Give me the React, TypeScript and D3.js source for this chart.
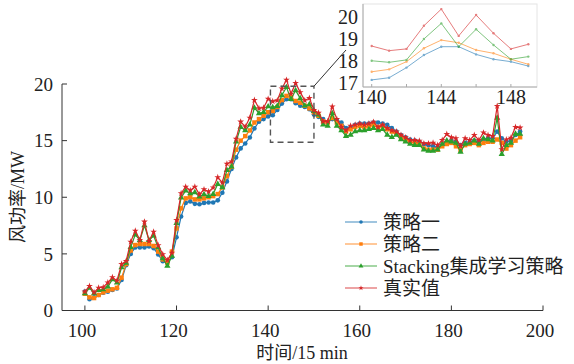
import * as d3 from 'd3';

// time index of the first sample (15 min steps)
const START = 100;

const strategy1 = [
  1.66, 0.99, 1.16, 1.37, 1.57, 1.66, 1.81, 1.95, 2.69, 4.0,
  5.0, 5.57, 5.57, 5.57, 5.65, 5.5, 4.95, 4.35, 4.25, 4.7,
  6.46, 8.3, 9.5, 9.63, 9.42, 9.38, 9.5, 9.54, 9.54, 9.73,
  10.4, 11.4, 12.5, 13.52, 14.31, 14.75, 15.28, 16.08, 16.67, 16.9,
  17.14, 17.24, 17.7, 18.27, 18.65, 18.65, 18.3, 18.08, 17.97, 17.77,
  17.3, 17.1, 16.9, 16.6, 16.9, 16.8, 16.6, 16.1, 16.2, 16.4,
  16.5, 16.5, 16.5, 16.6, 16.6, 16.5, 16.4, 16.1, 15.8, 15.5,
  15.3, 15.1, 15.0, 14.9, 14.7, 14.6, 14.5, 14.4, 14.6, 14.9,
  15.0, 14.9, 14.6, 14.8, 14.9, 15.0, 14.9, 15.1, 15.2, 15.2,
  15.8, 15.2, 14.9, 15.0, 15.5, 15.8,
];

const strategy2 = [
  1.48, 1.16, 1.1, 1.37, 1.6, 1.75, 1.87, 2.0, 2.9, 4.1,
  5.3, 5.78, 5.87, 5.87, 5.87, 5.7, 5.2, 4.51, 4.22, 5.2,
  7.25, 9.02, 9.9, 10.0, 9.81, 9.81, 9.9, 10.0, 10.1, 10.28,
  10.87, 11.87, 12.7, 14.2, 15.0, 15.4, 15.9, 16.6, 16.9, 17.2,
  17.51, 17.62, 17.97, 18.58, 18.95, 18.83, 18.5, 18.35, 18.08, 17.85,
  17.5, 17.2, 16.7, 16.6, 17.0, 16.6, 16.3, 15.8, 16.0, 16.2,
  16.3, 16.2, 16.3, 16.4, 16.2, 16.3, 16.0, 15.8, 15.6, 15.3,
  15.1, 14.9, 14.8, 14.7, 14.3, 14.2, 14.2, 14.2, 14.5, 14.7,
  14.8, 14.5, 14.2, 14.6, 14.7, 14.8, 14.6, 14.8, 14.9, 14.9,
  15.1, 14.8, 14.3, 14.6, 15.0, 15.3,
];

const stacking = [
  1.5, 2.0, 1.5, 1.8, 1.85, 2.1, 2.75, 2.45, 3.8, 4.2,
  5.6, 6.7, 6.2, 7.5, 6.2, 6.6, 5.57, 4.6, 3.93, 4.81,
  7.7, 9.96, 10.58, 10.34, 10.43, 10.05, 10.25, 10.1, 10.28, 11.16,
  10.87, 12.4, 12.7, 14.9, 16.2, 15.9, 16.4, 17.9, 17.4, 17.5,
  18.01, 17.94, 18.05, 19.0, 19.71, 18.65, 19.44, 18.73, 18.08, 18.2,
  17.6, 17.3, 16.4, 16.3, 17.4, 16.3, 15.9, 15.4, 15.5, 15.8,
  15.9, 15.9, 16.0, 16.1, 15.9, 16.0, 15.5, 15.3, 15.5, 15.1,
  14.9, 14.7, 14.6, 14.6, 14.2, 14.1, 14.1, 14.2, 14.7, 15.0,
  14.9, 14.8, 14.0, 14.7, 14.8, 15.0, 14.7, 15.2, 15.1, 15.0,
  17.0, 13.8, 14.6, 14.8, 15.6, 15.6,
];

const actual = [
  1.66, 2.16, 1.6, 2.01, 2.05, 2.46, 2.93, 2.63, 4.1, 4.37,
  6.07, 7.04, 6.22, 7.84, 6.13, 6.95, 5.75, 4.96, 4.45, 5.1,
  7.99, 10.34, 10.93, 10.6, 10.93, 10.25, 10.69, 10.5, 10.85, 11.76,
  11.29, 12.96, 13.14, 15.16, 16.67, 16.23, 17.02, 18.58, 17.85, 17.9,
  18.68, 18.47, 18.55, 19.6, 20.36, 19.14, 20.09, 19.26, 18.55, 18.76,
  17.7, 17.45, 16.7, 16.7, 18.0, 16.9, 16.2, 15.9, 16.3, 16.4,
  16.5, 16.4, 16.5, 16.65, 16.2, 16.4, 16.1, 15.9, 15.8, 15.5,
  15.28, 15.05, 15.05, 14.99, 14.75, 14.75, 14.81, 14.61, 15.05, 15.58,
  15.28, 15.2, 14.52, 15.2, 15.05, 15.49, 15.05, 15.7, 15.49, 15.4,
  18.05, 14.23, 15.1, 15.25, 16.2, 16.14,
];

const seriesNames = ['策略一', '策略二', 'Stacking集成学习策略', '真实值'];
const xTicks = [100, 120, 140, 160, 180, 200];
const yTicks = [0, 5, 10, 15, 20];
const insetXTicks = [140, 144, 148];
const insetMinorTicks = [140, 142, 144, 146, 148];
const insetYTicks = [17, 18, 19, 20];
const INSET_FROM = 140;
const INSET_TO = 149;

const W = 574;
const H = 364;
const FONT = "'Liberation Serif','Times New Roman','Noto Sans CJK SC',serif";

const x = d3.scaleLinear().domain([95, 200]).range([62, 543]);
const y = d3.scaleLinear().domain([0, 20]).range([310.5, 84]);
const ix = d3.scaleLinear().domain([139.5, 149.5]).range([363, 537]);
const iy = d3.scaleLinear().domain([17, 20]).range([83, 17]);

const series = [
  { name: seriesNames[0], values: strategy1, color: '#1f77b4', symbol: d3.symbolCircle, size: 17 },
  { name: seriesNames[1], values: strategy2, color: '#ff7f0e', symbol: d3.symbolSquare, size: 20 },
  { name: seriesNames[2], values: stacking, color: '#2ca02c', symbol: d3.symbolTriangle, size: 17 },
  { name: seriesNames[3], values: actual, color: '#d62728', symbol: d3.symbolStar, size: 14 },
];

export default function App() {
  const line = d3.line<number>().x((_, i) => x(START + i)).y((d) => y(d));
  const insetLine = d3.line<number>().x((_, i) => ix(INSET_FROM + i)).y((d) => iy(d));

  return (
    <div style={{ position: 'fixed', left: 0, top: 0 }}>
      <svg width={W} height={H} style={{ display: 'block', background: '#fff' }} fontFamily={FONT}>
        {/* axes */}
        <g stroke="#333" strokeWidth={1} fill="none">
          <line x1={x(95)} x2={x(200)} y1={y(0)} y2={y(0)} />
          <line x1={x(95)} x2={x(95)} y1={y(0)} y2={y(20)} />
          {xTicks.map((t) => (
            <line key={t} x1={x(t)} x2={x(t)} y1={y(0)} y2={y(0) - 5} />
          ))}
          {yTicks.map((t) => (
            <line key={t} x1={x(95)} x2={x(95) + 5} y1={y(t)} y2={y(t)} />
          ))}
        </g>
        <g fontSize={19} fill="#222">
          {xTicks.map((t) => (
            <text key={t} x={x(t) - 3} y={337} textAnchor="middle">{t}</text>
          ))}
          {yTicks.map((t) => (
            <text key={t} x={53} y={y(t)} dy="0.35em" textAnchor="end">{t}</text>
          ))}
        </g>
        <text x={302} y={359} textAnchor="middle" fontSize={18} fill="#222">时间/15 min</text>
        <text transform={`translate(24,197) rotate(-90)`} textAnchor="middle" fontSize={18} fill="#222">风功率/MW</text>

        {/* main series */}
        {series.map((s) => (
          <g key={s.name}>
            <path d={line(s.values) ?? ''} fill="none" stroke={s.color} strokeWidth={1.2} />
            {s.values.map((v, i) => (
              <path
                key={i}
                transform={`translate(${x(START + i)},${y(v)})`}
                d={d3.symbol().type(s.symbol).size(s.size)() ?? ''}
                fill={s.color}
              />
            ))}
          </g>
        ))}

        {/* zoom rectangle + connector */}
        <rect
          x={x(140.5)}
          y={y(19.8)}
          width={x(150) - x(140.5)}
          height={y(14.85) - y(19.8)}
          fill="none"
          stroke="#555"
          strokeWidth={1.4}
          strokeDasharray="6,4"
        />
        <line x1={x(150)} y1={y(19.8)} x2={346} y2={50} stroke="#333" strokeWidth={1} />

        {/* inset */}
        <rect x={363} y={4} width={174} height={83} fill="#fff" stroke="#e4e4e4" strokeWidth={1} />
        <g stroke="#aaa" strokeWidth={1}>
          <line x1={363} x2={537} y1={87} y2={87} />
          <line x1={363} x2={363} y1={4} y2={87} />
          {insetMinorTicks.map((t) => (
            <line key={t} x1={ix(t)} x2={ix(t)} y1={87} y2={84} />
          ))}
        </g>
        {series.map((s) => {
          const vals = s.values.slice(INSET_FROM - START, INSET_TO - START + 1);
          return (
            <g key={s.name} opacity={0.6}>
              <path d={insetLine(vals) ?? ''} fill="none" stroke={s.color} strokeWidth={1} />
              {vals.map((v, i) => (
                <circle key={i} cx={ix(INSET_FROM + i)} cy={iy(v)} r={1.2} fill={s.color} />
              ))}
            </g>
          );
        })}
        <g fontSize={20} fill="#222">
          {insetXTicks.map((t) => (
            <text key={t} x={ix(t)} y={104} textAnchor="middle">{t}</text>
          ))}
          {insetYTicks.map((t) => (
            <text key={t} x={358} y={iy(t)} dy="0.35em" textAnchor="end">{t}</text>
          ))}
        </g>

        {/* legend */}
        {series.map((s, i) => {
          const ly = 222 + i * 22;
          return (
            <g key={s.name}>
              <line x1={345} x2={377} y1={ly} y2={ly} stroke={s.color} strokeWidth={1.2} opacity={0.7} />
              <path
                transform={`translate(361,${ly})`}
                d={d3.symbol().type(s.symbol).size(s.size * 0.6)() ?? ''}
                fill={s.color}
              />
              <text x={383} y={ly} dy="0.35em" fontSize={19} fill="#222">{s.name}</text>
            </g>
          );
        })}
      </svg>
    </div>
  );
}
